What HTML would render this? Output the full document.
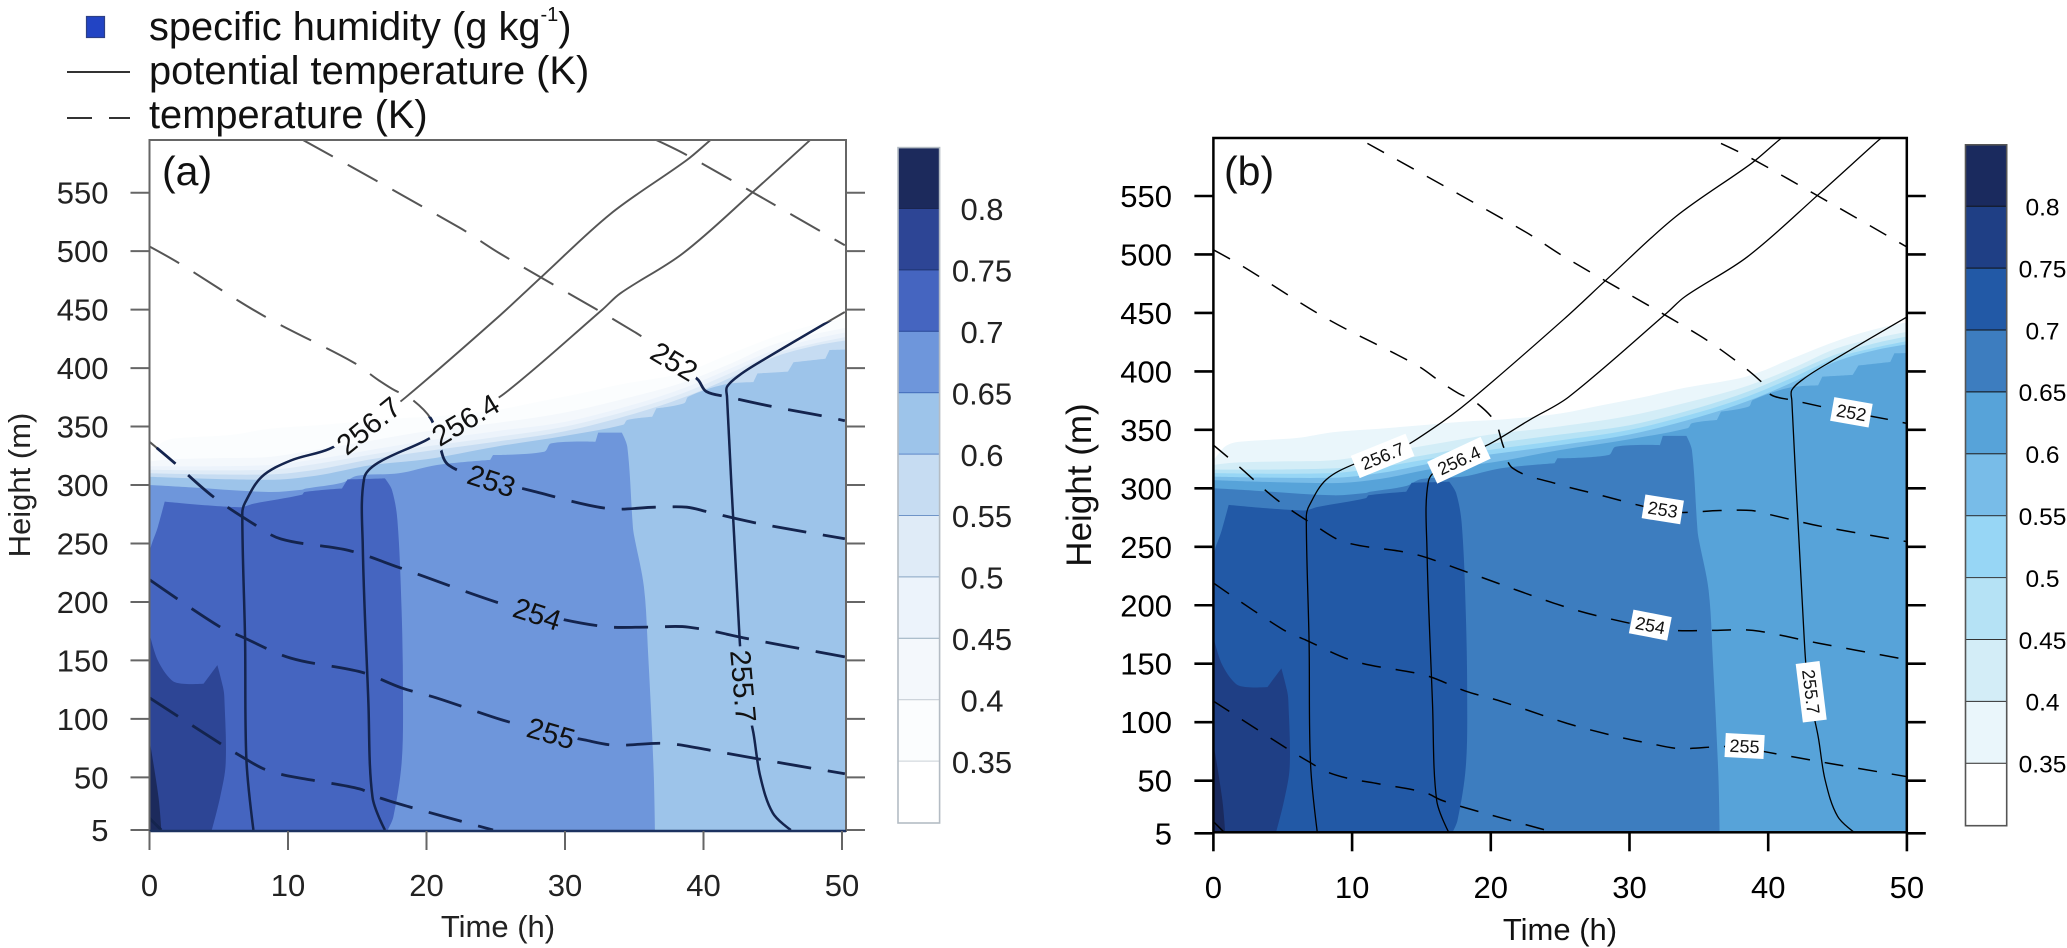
<!DOCTYPE html>
<html lang="en">
<head>
<meta charset="utf-8">
<title>Specific humidity, potential temperature and temperature</title>
<style>
html,body{margin:0;padding:0;background:#fff;}
svg{display:block;font-family:"Liberation Sans",Arial,sans-serif;}
</style>
</head>
<body>
<svg id="fig" xmlns="http://www.w3.org/2000/svg" width="2067" height="948" viewBox="0 0 2067 948">
  <rect x="0" y="0" width="2067" height="948" fill="#fff"/>
  <g fill="#111">
    <rect x="86.5" y="16.5" width="18" height="21" fill="#2244c4" stroke="#2c3f86" stroke-width="1.2"/>
    <text x="149" y="40" font-size="39.8">specific humidity (g kg<tspan font-size="20" dy="-19">-1</tspan><tspan dy="19">)</tspan></text>
    <line x1="67" y1="72" x2="130" y2="72" stroke="#333" stroke-width="2"/>
    <text x="149" y="84" font-size="39.8">potential temperature (K)</text>
    <line x1="67" y1="118" x2="130" y2="118" stroke="#333" stroke-width="2" stroke-dasharray="25 17"/>
    <text x="149" y="128" font-size="39.8">temperature (K)</text>
  </g>
  <g id="panelA"></g>
  <g id="panelB"></g>
  <text x="162" y="185" font-size="41" fill="#111">(a)</text>
  <text x="1224" y="185" font-size="41" fill="#111">(b)</text>
  <text transform="translate(30,485) rotate(-90)" text-anchor="middle" font-size="31" fill="#222">Height (m)</text>
  <text transform="translate(1091,485) rotate(-90)" text-anchor="middle" font-size="35" fill="#111">Height (m)</text>
  <text x="498" y="937" text-anchor="middle" font-size="31" fill="#222">Time (h)</text>
  <text x="1560" y="940" text-anchor="middle" font-size="31" fill="#111">Time (h)</text>
</svg>
<script>
// ---------- axis ticks and colour-bar levels ----------
const timeTicks = [0, 10, 20, 30, 40, 50];
const heightTicks = [5, 50, 100, 150, 200, 250, 300, 350, 400, 450, 500, 550];
const barEdges = [0.85, 0.8, 0.75, 0.7, 0.65, 0.6, 0.55, 0.5, 0.45, 0.4, 0.35, 0.3];
const barLabels = ['0.8', '0.75', '0.7', '0.65', '0.6', '0.55', '0.5', '0.45', '0.4', '0.35'];

// ---------- specific humidity contours: [time h, height m] ----------
const humidity035 = [[0,322],[0.4,330],[1,337],[2,340],[6,343],[8.6,348],[12,351],[15,354],[18,357],[21,359],[25,364],[28,371],[31,378],[34,386],[37.9,394],[39.5,400],[41.5,410],[45.4,428],[48,437],[50.5,443]];
const humidity040 = [[0,320],[1.5,322],[5,323],[8.6,324],[12,330],[16,338],[20,346],[25,353],[30,362],[35,376],[38.6,388],[42,404],[45,420],[48,429],[50.5,435]];
const humidity045 = [[0,316],[8.6,317],[12,322],[16,330],[20,338],[25,346],[30,354],[35,369],[38.6,383],[42,400],[45,415],[48,425],[50.5,431]];
const humidity050 = [[0,313],[8.6,313],[12,318],[16,326],[20,333],[25,341],[30,350],[35,365],[38.6,379],[42,396],[45,412],[48,421],[50.5,427]];
const humidity055 = [[0,310],[8.6,309],[12,313],[16,322],[20,329],[25,337],[30,346],[35,361],[38.6,375],[42,392],[45,409],[48,419],[50.5,424]];
const humidity060 = [[0,307],[8.6,304.5],[12,308],[16,317],[20,322],[25,332.8],[30,342],[34.2,351.5],[34.5,355.6],[36.3,358.4],[36.6,365.6],[38.6,370],[38.9,375.5],[41.5,386],[43.6,388],[43.9,395.5],[46.1,397],[46.5,405],[48.8,408],[49.1,415.5],[50.5,416]];
const humidity065 = [[0,5],[0,300],[3,298],[8.6,294],[11,296],[11.3,297],[13.9,302],[15,308],[18,310],[20.7,317],[24.6,321.5],[24.8,325.7],[28.5,328.5],[29,335.6],[32.2,337],[32.4,344.8],[34.1,344.8],[34.5,332.8],[34.9,264],[35,255.8],[35.7,213],[36,156],[36.4,56.4],[36.5,5]];
const humidity070 = [[0,5],[0,240],[0.6,264],[1.1,285.8],[6.5,281],[7.5,284],[11,291.6],[11.2,294],[13.9,297],[14.3,304.8],[17,305.7],[17.5,296],[17.9,270],[18.2,193],[18.3,119],[18.2,62],[17.6,16],[17.2,5]];
const humidity075 = [[0,5],[0,173],[0.6,150],[1.6,133],[2.4,130],[3.9,130],[4.9,146],[5.3,127.6],[5.4,119],[5.5,62],[5.1,33],[4.5,5]];
const humidity080 = [[0,5],[0,82],[0.65,33],[0.85,5]];
const humidityContours = [humidity035, humidity040, humidity045, humidity050, humidity055, humidity060, humidity065, humidity070, humidity075, humidity080];

// ---------- potential temperature contours (solid) ----------
const theta2557 = [[46.3,5],[45,19.5],[44.1,50.6],[43.6,88],[42.9,128],[42.6,170],[41.7,375.5],[41.7,384],[42.6,394],[44.1,405.5],[50.2,448]];
const theta2564 = [[17,5],[16.1,33],[15.8,116],[15.4,247],[15.5,306],[16.5,319],[20,338.5],[22.8,358.5],[25.6,378],[32.7,450],[34,464],[38.5,498],[43.6,551],[47.7,595],[48.2,600]];
const theta2567 = [[7.5,5],[7,65],[6.9,167],[6.7,276],[6.9,285],[8.1,307],[10.2,321],[13,331],[15.8,351],[18.5,375],[25.3,445],[28.3,478],[33.3,532],[38.8,578],[40.5,595],[41,600]];
const thetaLines = [theta2557, theta2564, theta2567];

// ---------- temperature contours (dashed) ----------
const temp251 = [[36.6,595],[38.5,584],[43.6,550],[50.2,505]];
const temp252 = [[11.1,595],[22.4,520],[25.3,498],[35,431],[37.9,407],[39.6,390],[40.2,380],[41.7,375.5],[45,367],[48.6,359],[50.2,355]];
const temp253 = [[0,504],[2.1,490],[8.2,445],[14.7,405],[16.5,390],[17.7,381],[18.8,374.6],[20.3,357],[20.9,336],[21.6,317],[24.7,304],[27.4,295.7],[33,280],[36.5,281],[38.8,281],[40.3,277],[43.8,267.5],[50.2,254]];
const temp254 = [[0,337],[1.8,319],[4.6,290],[7.4,267.6],[9.5,253.8],[14.4,244],[17.9,230],[24.6,201.6],[28,190],[32.8,179],[36.1,178.5],[38.9,178.5],[43.6,167.6],[50.2,153]];
const temp255 = [[0,219],[4.9,180],[6.7,170],[10.2,152],[15.3,140],[18.2,126.5],[20.7,118],[25.5,99],[29,88],[31.4,82],[33.6,77.5],[37.3,79],[41,72],[44.3,65],[50.2,53]];
const temp256 = [[0,118],[5.3,77.5],[6.9,66],[8.2,57.5],[9.7,52],[11.7,47.7],[15.2,40],[16.5,33],[18.7,25],[24.8,5]];
const temp257 = [[0,15],[0.85,5]];
const tempLines = [temp251, temp252, temp253, temp254, temp255, temp256, temp257];

// ---------- contour labels ----------
const contourLabels = ['256.7', '256.4', '252', '253', '254', '255', '255.7'];
const labelTimesA = [15.8, 22.8, 37.9, 24.7, 28, 29, 42.9];
const labelHeightsA = [351, 356, 406, 304, 190, 88, 128];
const labelTimesB = [12.2, 17.7, 46, 32.4, 31.5, 38.3, 43.1];
const labelHeightsB = [327.7, 324, 365, 282, 183, 79.6, 126];

const NS = 'http://www.w3.org/2000/svg';
function mk(tag, attrs, parent) {
  const e = document.createElementNS(NS, tag);
  for (const k in attrs) e.setAttribute(k, attrs[k]);
  parent.appendChild(e);
  return e;
}

// Smooth path through pixel points; turns sharper than ~50 degrees stay as corners.
function smoothPath(px) {
  const tan = px.map((q, i) => {
    if (i === 0 || i === px.length - 1) return [0, 0];
    const a = [q[0] - px[i - 1][0], q[1] - px[i - 1][1]];
    const b = [px[i + 1][0] - q[0], px[i + 1][1] - q[1]];
    const la = Math.hypot(a[0], a[1]) || 1, lb = Math.hypot(b[0], b[1]) || 1;
    const cos = (a[0] * b[0] + a[1] * b[1]) / (la * lb);
    if (cos < 0.64) return [0, 0];
    const d = [px[i + 1][0] - px[i - 1][0], px[i + 1][1] - px[i - 1][1]];
    const ld = Math.hypot(d[0], d[1]) || 1;
    return [d[0] / ld, d[1] / ld];
  });
  let s = 'M' + px[0][0].toFixed(1) + ' ' + px[0][1].toFixed(1);
  for (let i = 1; i < px.length; i++) {
    const p0 = px[i - 1], p1 = px[i];
    const len = Math.hypot(p1[0] - p0[0], p1[1] - p0[1]) / 3;
    const c1 = [p0[0] + tan[i - 1][0] * len, p0[1] + tan[i - 1][1] * len];
    const c2 = [p1[0] - tan[i][0] * len, p1[1] - tan[i][1] * len];
    s += 'C' + c1[0].toFixed(1) + ' ' + c1[1].toFixed(1) + ' ' + c2[0].toFixed(1) + ' ' + c2[1].toFixed(1) + ' ' + p1[0].toFixed(1) + ' ' + p1[1].toFixed(1);
  }
  return s;
}

function drawPanel(p) {
  const root = document.getElementById(p.id);
  const X = t => p.x0 + t * p.pxT;
  const Y = h => p.y550 + (550 - h) * p.pxH;
  const CB = v => p.bar80 + (0.8 - v) * p.barPx;
  const pathOf = pts => smoothPath(pts.map(q => [X(q[0]), Y(q[1])]));
  const polyOf = (pts) => {
    const first = pts[0], last = pts[pts.length - 1];
    if (first[1] === 5) return pathOf(pts) + 'Z';
    return pathOf([[first[0], 5]].concat(pts, [[last[0], 5]])) + 'Z';
  };

  const defs = mk('defs', {}, root);
  const clip = mk('clipPath', {id: p.id + 'Clip'}, defs);
  mk('rect', {x: p.left, y: p.top, width: p.right - p.left, height: p.bottom - p.top}, clip);
  const moistClip = mk('clipPath', {id: p.id + 'Moist'}, defs);
  mk('path', {d: polyOf(humidity035)}, moistClip);

  const plot = mk('g', {'clip-path': 'url(#' + p.id + 'Clip)'}, root);
  
  

  humidityContours.forEach((c, i) => {
    const band = mk('path', {d: polyOf(c), fill: p.colors[i]}, plot);
    
    
  });

  // line group, cut around the labels when the panel has unboxed labels
  const lines = mk('g', {fill: 'none', 'stroke-linejoin': 'round'}, plot);
  
  
  if (!p.boxed) {
    const mask = mk('mask', {id: p.id + 'Mask', maskUnits: 'userSpaceOnUse', x: 0, y: 0, width: 2067, height: 948}, defs);
    mk('rect', {x: 0, y: 0, width: 2067, height: 948, fill: '#fff'}, mask);
    contourLabels.forEach((s, i) => {
      const w = s.length * 13 + 15;
      mk('rect', {x: -w / 2, y: -14, width: w, height: 28, fill: '#000',
        transform: 'translate(' + X(p.labelT[i]) + ',' + Y(p.labelH[i]) + ') rotate(' + p.labelRot[i] + ')'}, mask);
    });
    lines.setAttribute('mask', 'url(#' + p.id + 'Mask)');
  }

  const addLines = (host, set, stroke, width, dash, name) => {
    set.forEach(c => {
      const attrs = {d: pathOf(c), stroke: stroke, 'stroke-width': width};
      if (dash) attrs['stroke-dasharray'] = dash;
      const ln = mk('path', attrs, host);
      
      
    });
  };
  addLines(lines, thetaLines, p.lineColor, p.thetaW, null, 'potential-temperature-contour');
  addLines(lines, tempLines, p.lineColor, p.tempW, p.dash, 'temperature-contour');
  if (!p.boxed) {
    const dark = mk('g', {'clip-path': 'url(#' + p.id + 'Moist)'}, lines);
    
    
    addLines(dark, thetaLines, '#14244e', 2.5, null, 'potential-temperature-contour-dark');
    addLines(dark, tempLines, '#14244e', 2.8, p.dash, 'temperature-contour-dark');
  }

  // contour labels
  contourLabels.forEach((s, i) => {
    const g = mk('g', {transform: 'translate(' + X(p.labelT[i]) + ',' + Y(p.labelH[i]) + ') rotate(' + p.labelRot[i] + ')'}, root);
    
    
    if (p.boxed) {
      const w = s.length * 10 + 9;
      mk('rect', {x: -w / 2, y: -12, width: w, height: 24, fill: '#fff'}, g);
    }
    const tx = mk('text', {x: 0, y: p.labelSize * 0.36, 'text-anchor': 'middle', 'font-size': p.labelSize, fill: '#111'}, g);
    tx.textContent = s;
  });

  // frame
  const frame = mk('rect', {x: p.left, y: p.top, width: p.right - p.left, height: p.bottom - p.top, fill: 'none', stroke: p.frameColor, 'stroke-width': p.frameW}, root);
  
  
  if (!p.boxed) {
    const base = mk('line', {x1: p.left, y1: p.bottom, x2: p.right, y2: p.bottom, stroke: '#1c3260', 'stroke-width': 2.5}, root);
    
    
  }

  // y ticks
  heightTicks.forEach(h => {
    const y = Y(h);
    const tl = mk('line', {x1: p.left - 19, y1: y, x2: p.left, y2: y, stroke: p.frameColor, 'stroke-width': p.tickW}, root);
    
    
    const tr = mk('line', {x1: p.right, y1: y, x2: p.right + 19, y2: y, stroke: p.frameColor, 'stroke-width': p.tickW}, root);
    
    
    const lb = mk('text', {x: p.yLabelX, y: y + 11, 'text-anchor': 'end', 'font-size': 31, fill: p.textColor}, root);
    
    
    lb.textContent = h;
  });

  // x ticks
  timeTicks.forEach(t => {
    const x = X(t);
    const tk = mk('line', {x1: x, y1: p.bottom, x2: x, y2: p.bottom + 19, stroke: p.frameColor, 'stroke-width': p.tickW}, root);
    
    
    const lb = mk('text', {x: x, y: p.xLabelY, 'text-anchor': 'middle', 'font-size': 31, fill: p.textColor}, root);
    
    
    lb.textContent = t;
  });

  // colour bar
  for (let i = 0; i < barEdges.length - 1; i++) {
    const y0 = CB(barEdges[i]), y1 = CB(barEdges[i + 1]);
    const idx = humidityContours.length - 1 - i;
    const fill = idx >= 0 ? p.colors[idx] : '#fff';
    const cell = mk('rect', {x: p.barL, y: y0, width: p.barR - p.barL, height: y1 - y0, fill: fill}, root);
    
    
    if (i < barEdges.length - 2) {
      const sep = mk('line', {x1: p.barL, y1: y1, x2: p.barR, y2: y1, stroke: p.barLines[i], 'stroke-width': 2}, root);
      
      
    }
  }
  const bb = mk('rect', {x: p.barL, y: CB(0.85), width: p.barR - p.barL, height: CB(0.3) - CB(0.85), fill: 'none', stroke: p.barEdge, 'stroke-width': 1.6}, root);
  
  
  barLabels.forEach(s => {
    const lb = mk('text', {x: p.barLabelX, y: CB(parseFloat(s)) + p.barSize * 0.36, 'text-anchor': 'middle', 'font-size': p.barSize, fill: p.textColor}, root);
    
    
    lb.textContent = s;
  });
}

drawPanel({
  id: 'panelA', x0: 149.5, pxT: 13.85, y550: 192.7, pxH: 1.1693,
  left: 149.5, right: 846, top: 140, bottom: 831,
  colors: ['#fbfdfe', '#f4f8fc', '#ecf3fb', '#dfebf7', '#c6dcf2', '#9dc4ea', '#6e96db', '#4565c0', '#2d4595', '#1c2a5c'],
  lineColor: '#555', thetaW: 1.9, tempW: 2, dash: '34 17', boxed: false,
  labelT: labelTimesA, labelH: labelHeightsA, labelRot: [-39, -31, 31, 18, 18, 16, 85], labelSize: 29,
  frameColor: '#666', frameW: 2, tickW: 2, textColor: '#222',
  yLabelX: 108.5, xLabelY: 896,
  barL: 898, barR: 939.6, bar80: 209, barPx: 1228, barSize: 31, barLabelX: 982,
  barLines: ['#1a2550', '#1e3470', '#2a4a9a', '#3f68b8', '#5b85c8', '#6f94c8', '#8aa6c4', '#9ab0c0', '#c0c8d0', '#c8ced4'],
  barEdge: '#b4bcc4'
});

drawPanel({
  id: 'panelB', x0: 1213.4, pxT: 13.87, y550: 196, pxH: 1.1693,
  left: 1213.4, right: 1906.8, top: 138, bottom: 832.3,
  colors: ['#eaf6fb', '#d3edf7', '#b5e2f5', '#97d6f5', '#78bce8', '#57a3d9', '#3d7dbf', '#2259a6', '#1f3f85', '#1a2a5e'],
  lineColor: '#000', thetaW: 1.3, tempW: 1.5, dash: '19 15', boxed: true,
  labelT: labelTimesB, labelH: labelHeightsB, labelRot: [-22, -25, 10, 9, 11, 3, 83], labelSize: 18,
  frameColor: '#000', frameW: 2.5, tickW: 2.6, textColor: '#000',
  yLabelX: 1172, xLabelY: 898,
  barL: 1965.5, barR: 2006.7, bar80: 206.7, barPx: 1238, barSize: 24.5, barLabelX: 2042.5,
  barLines: ['#111', '#111', '#111', '#111', '#222', '#222', '#333', '#333', '#333', '#333'],
  barEdge: '#555'
});
</script>
</body>
</html>
